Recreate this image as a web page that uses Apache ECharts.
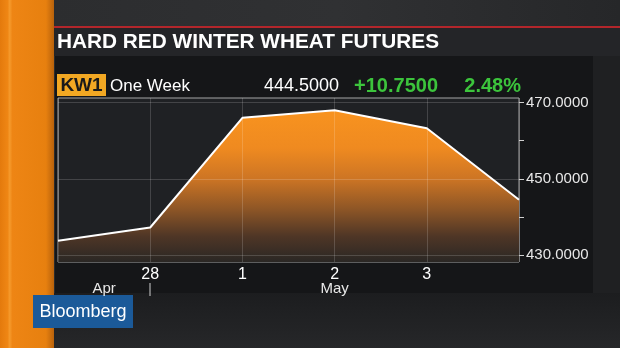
<!DOCTYPE html>
<html><head><meta charset="utf-8">
<script src="https://cdn.jsdelivr.net/npm/echarts@6/dist/echarts.min.js"></script>
<style>html,body{margin:0;padding:0;background:#2a2b2d}#c{width:620px;height:348px}</style>
</head><body><div id="c"></div>
<script>
var categories = ['27', '28', '1', '2', '3', '4'];
var prices = [433.75, 437.25, 466.0, 468.0, 463.25, 444.5];
var shownDayLabels = ['28', '1', '2', '3'];
var yLabelValues = [430, 450, 470];
var yMinorValues = [440, 460];
var months = [{name: 'Apr', from: '27', to: '28'}, {name: 'May', from: '28', to: '4'}];
var title = 'HARD RED WINTER WHEAT FUTURES';
var ticker = 'KW1';
var period = 'One Week';
var lastPrice = '444.5000';
var change = '+10.7500';
var pctChange = '2.48%';

var FONT = '"Liberation Sans", Arial, sans-serif';
var chart = echarts.init(document.getElementById('c'), null, {renderer: 'canvas'});

var staticGraphics = [
  {type: 'rect', z: -10, shape: {x: 0, y: 0, width: 620, height: 348}, style: {fill: '#2a2b2d'}},
  {type: 'rect', z: -9, shape: {x: 53, y: 0, width: 567, height: 26}, style: {fill: new echarts.graphic.LinearGradient(0,0,1,0,[{offset:0,color:'#2c2d2f'},{offset:0.5,color:'#303133'},{offset:1,color:'#262729'}])}},
  {type: 'rect', z: -8, shape: {x: 53, y: 26, width: 567, height: 2}, style: {fill: '#b3262b'}},
  {type: 'rect', z: -8, shape: {x: 51, y: 28, width: 569, height: 28}, style: {fill: '#242528'}},
  {type: 'rect', z: -8, shape: {x: 53, y: 293, width: 567, height: 55}, style: {fill: new echarts.graphic.LinearGradient(0,0,0,1,[{offset:0,color:'#1c1d1f'},{offset:1,color:'#262729'}])}},
  {type: 'rect', z: -8, shape: {x: 593, y: 56, width: 27, height: 237}, style: {fill: '#1f2022'}},
  {type: 'rect', z: -7, shape: {x: 55, y: 56, width: 538, height: 237}, style: {fill: '#151618'}},
  {type: 'rect', z: -6, shape: {x: 0, y: 0, width: 54, height: 348}, style: {fill: new echarts.graphic.LinearGradient(0,0,1,0,[{offset:0,color:'#e47a0c'},{offset:0.14,color:'#ef8614'},{offset:0.18,color:'#f59a2c'},{offset:0.23,color:'#ee8514'},{offset:0.85,color:'#e7800f'},{offset:1,color:'#b8620c'}])}},
  {type: 'text', z: 5, style: {x: 57, y: 42, text: title, font: 'bold 20.8px ' + FONT, fill: '#ffffff', verticalAlign: 'middle'}},
  {type: 'rect', z: 5, shape: {x: 57, y: 74, width: 49, height: 22}, style: {fill: '#f2a823'}},
  {type: 'text', z: 6, style: {x: 81.5, y: 86, text: ticker, font: 'bold 19px ' + FONT, fill: '#1a1a1a', align: 'center', verticalAlign: 'middle'}},
  {type: 'text', z: 6, style: {x: 110, y: 86, text: period, font: '17px ' + FONT, fill: '#ffffff', verticalAlign: 'middle'}},
  {type: 'text', z: 6, style: {x: 339, y: 86, text: lastPrice, font: '18px ' + FONT, fill: '#ffffff', align: 'right', verticalAlign: 'middle'}},
  {type: 'text', z: 6, style: {x: 438, y: 86, text: change, font: 'bold 20px ' + FONT, fill: '#3cc43c', align: 'right', verticalAlign: 'middle'}},
  {type: 'text', z: 6, style: {x: 521, y: 86, text: pctChange, font: 'bold 20px ' + FONT, fill: '#3cc43c', align: 'right', verticalAlign: 'middle'}},
  {type: 'rect', z: 5, shape: {x: 33, y: 295, width: 100, height: 33}, style: {fill: '#1b5a99'}},
  {type: 'text', z: 6, style: {x: 83, y: 312, text: 'Bloomberg', font: '18px ' + FONT, fill: '#ffffff', align: 'center', verticalAlign: 'middle'}}
];

var gridLine = {show: true, lineStyle: {color: 'rgba(255,255,255,0.16)', width: 1}};
var option = {
  animation: false,
  backgroundColor: '#2a2b2d',
  graphic: staticGraphics,
  grid: {left: 58, right: 101, top: 98, bottom: 86, show: true, backgroundColor: '#1f2124', borderColor: '#a5a5a5', borderWidth: 1},
  xAxis: {
    type: 'category', data: categories, boundaryGap: false, z: 3,
    axisLine: {show: false}, axisTick: {show: false},
    axisLabel: {color: '#ffffff', fontSize: 16, fontFamily: FONT, margin: 5,
      formatter: function (v) { return shownDayLabels.indexOf(v) >= 0 ? v : ''; }},
    splitLine: gridLine
  },
  yAxis: [{
    type: 'value', position: 'right', min: 428.2, max: 471.2, z: 3,
    axisLine: {show: false},
    axisTick: {show: true, length: 5, customValues: yLabelValues, lineStyle: {color: '#cfcfcf'}},
    axisLabel: {customValues: yLabelValues, color: '#e8e8e8', fontSize: 15, fontFamily: FONT, margin: 7,
      formatter: function (v) { return v.toFixed(4); }},
    splitLine: gridLine
  }, {
    type: 'value', position: 'right', min: 428.2, max: 471.2,
    axisLine: {show: false},
    axisTick: {show: true, length: 5, customValues: yMinorValues, lineStyle: {color: '#cfcfcf'}},
    axisLabel: {show: false}, splitLine: {show: false}
  }],
  series: [{
    type: 'line', data: prices, yAxisIndex: 0, showSymbol: false, symbol: 'none', z: 2,
    lineStyle: {color: '#ffffff', width: 2},
    areaStyle: {opacity: 1, color: new echarts.graphic.LinearGradient(0, 0, 0, 1, [
      {offset: 0, color: '#f8931f'}, {offset: 0.25, color: '#ef8a20'}, {offset: 0.45, color: '#cd7524'},
      {offset: 0.65, color: '#8e5626'}, {offset: 0.83, color: '#4f3626'}, {offset: 1, color: '#2a2724'}])}
  }]
};
chart.setOption(option);

var monthGraphics = [];
months.forEach(function (m) {
  var x1 = chart.convertToPixel({xAxisIndex: 0}, m.from);
  var x2 = chart.convertToPixel({xAxisIndex: 0}, m.to);
  monthGraphics.push({type: 'text', z: 6, style: {x: (x1 + x2) / 2, y: 289, text: m.name, font: '15px ' + FONT, fill: '#e8e8e8', align: 'center', verticalAlign: 'middle'}});
});
var sepX = chart.convertToPixel({xAxisIndex: 0}, months[1].from);
monthGraphics.push({type: 'rect', z: 6, shape: {x: Math.round(sepX) - 0.5, y: 283, width: 1, height: 13}, style: {fill: '#d0d0d0'}});
chart.setOption({graphic: staticGraphics.concat(monthGraphics)});
</script>
</body></html>
